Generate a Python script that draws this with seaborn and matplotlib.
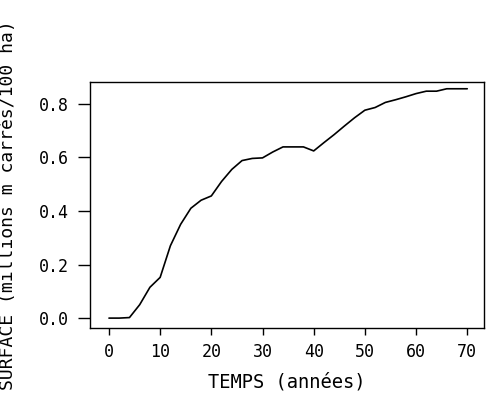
import matplotlib
matplotlib.use("Agg")
import matplotlib.pyplot as plt
import seaborn as sns
import pandas as pd

# Area over time (every two years)
years = [0, 2, 4, 6, 8, 10, 12, 14, 16, 18, 20, 22, 24, 26, 28, 30, 32, 34,
         36, 38, 40, 42, 44, 46, 48, 50, 52, 54, 56, 58, 60, 62, 64, 66, 68, 70]
surface = [0.0, 0.0, 0.002, 0.05, 0.115, 0.152, 0.27, 0.35, 0.41, 0.44, 0.456,
           0.51, 0.555, 0.588, 0.596, 0.598, 0.62, 0.639, 0.639, 0.639, 0.624,
           0.655, 0.685, 0.717, 0.748, 0.776, 0.786, 0.805, 0.815, 0.826, 0.838,
           0.847, 0.847, 0.856, 0.856, 0.856]

x_ticks = [0, 10, 20, 30, 40, 50, 60, 70]
y_ticks = [0.0, 0.2, 0.4, 0.6, 0.8]
y_tick_labels = ["0.0", "0.2", "0.4", "0.6", "0.8"]

df = pd.DataFrame({"years": years, "surface": surface})

sns.set_theme(style="ticks")
plt.rcParams["font.family"] = ["DejaVu Sans Mono", "DejaVu Sans"]

fig = plt.figure(figsize=(4.92, 4.09), dpi=100)
ax = fig.add_axes([0.183, 0.198, 0.801, 0.602])

sns.lineplot(data=df, x="years", y="surface", ax=ax, color="black",
             linewidth=1.2)

ax.set_xlim(-3.7, 73.3)
ax.set_ylim(-0.037, 0.882)
ax.set_xticks(x_ticks)
ax.set_xticklabels([str(t) for t in x_ticks])
ax.set_yticks(y_ticks)
ax.set_yticklabels(y_tick_labels)

for side in ["top", "right", "bottom", "left"]:
    ax.spines[side].set_visible(True)
    ax.spines[side].set_color("black")
    ax.spines[side].set_linewidth(1.0)

ax.tick_params(axis="x", direction="out", length=5, width=1.0, pad=6,
               labelsize=12, colors="black")
ax.tick_params(axis="y", direction="out", length=9, width=1.0, pad=6,
               labelsize=12, colors="black")

ax.set_xlabel("TEMPS (années)", fontsize=13.5, color="black")
ax.xaxis.label.set_verticalalignment("center")
ax.xaxis.set_label_coords(0.5, -0.22)

ax.set_ylabel("SURFACE (millions m carrés/100 ha)", fontsize=13,
              color="black")
ax.yaxis.label.set_verticalalignment("center")
ax.yaxis.set_label_coords(-0.208, 0.5)

fig.savefig("out.png", dpi=100, facecolor="white")
